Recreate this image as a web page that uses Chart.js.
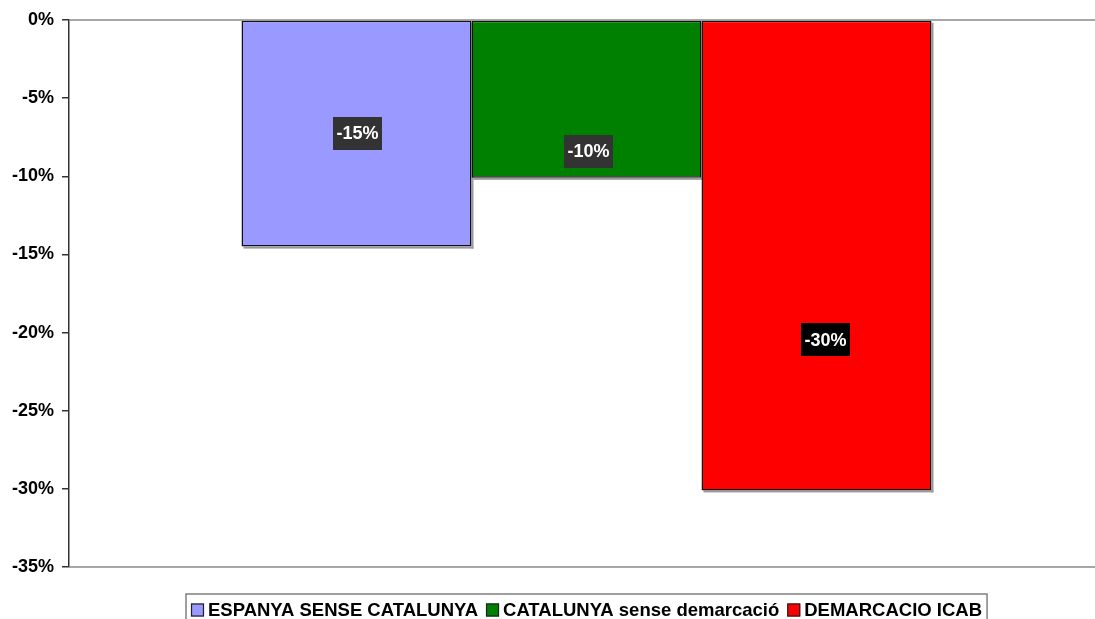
<!DOCTYPE html>
<html>
<head>
<meta charset="utf-8">
<script src="https://cdn.jsdelivr.net/npm/chart.js@4.4.1/dist/chart.umd.min.js"></script>
<style>
  html, body { margin: 0; padding: 0; background: #fff; overflow: hidden; }
  #wrap { width: 1120px; height: 640px; }
</style>
</head>
<body>
<div id="wrap"><canvas id="varChart" width="1120" height="640"></canvas></div>
<script>
const series_names = ['ESPANYA SENSE CATALUNYA', 'CATALUNYA sense demarcació', 'DEMARCACIO ICAB'];
const series_values = [-14.5, -10.1, -30.1];
const series_colors = ['#9999FF', '#008000', '#FF0000'];
const y_ticks = [0, -5, -10, -15, -20, -25, -30, -35];

// where the value boxes sit: share of the bar length, and px nudge sideways
const label_along = [0.5, 0.83, 0.68];
const label_nudge = [1, 2, 9];
const label_bg = ['#333333', '#333333', '#000000'];

const FONT = '"Liberation Sans", Arial, sans-serif';

const datasets_arr = series_names.map((name, i) => ({
  label: name,
  data: [series_values[i]],
  backgroundColor: series_colors[i],
  borderColor: '#111',
  borderWidth: 1.5,
  borderSkipped: false,
  barPercentage: 1,
  categoryPercentage: 2 / 3
}));

const framePlugin = {
  id: 'frame',
  beforeDatasetsDraw(chart) {
    const a = chart.chartArea, ctx = chart.ctx;
    ctx.save();
    ctx.strokeStyle = '#8a8a8a';
    ctx.lineWidth = 1.5;
    ctx.beginPath();
    ctx.moveTo(a.left, a.top); ctx.lineTo(a.right, a.top);
    ctx.lineTo(a.right, a.bottom); ctx.lineTo(a.left, a.bottom);
    ctx.stroke();
    // soft shadow to the right / below each bar
    ctx.fillStyle = '#9a9a9a';
    chart.data.datasets.forEach((ds, i) => {
      const bar = chart.getDatasetMeta(i).data[0];
      const l = bar.x - bar.width / 2, r = bar.x + bar.width / 2;
      ctx.fillRect(r, bar.base + 2, 2, bar.y - bar.base);
      ctx.fillRect(l + 2, bar.y, bar.width, 2);
    });
    ctx.restore();
  },
  afterDatasetsDraw(chart) {
    const ctx = chart.ctx, y = chart.scales.y;
    ctx.save();
    ctx.font = 'bold 18px ' + FONT;
    ctx.textAlign = 'center';
    ctx.textBaseline = 'middle';
    chart.data.datasets.forEach((ds, i) => {
      const bar = chart.getDatasetMeta(i).data[0];
      const v = ds.data[0];
      const txt = v.toFixed(0) + '%';
      const cx = bar.x + label_nudge[i];
      const cy = y.getPixelForValue(v * label_along[i]);
      const w = ctx.measureText(txt).width + 7;
      const h = 33;
      ctx.fillStyle = label_bg[i];
      ctx.fillRect(Math.round(cx - w / 2), Math.round(cy - h / 2), Math.round(w), h);
      ctx.fillStyle = '#fff';
      ctx.fillText(txt, cx, cy + 1);
    });
    ctx.restore();
  },
  afterDraw(chart) {
    // legend box under the plot
    const ctx = chart.ctx, a = chart.chartArea;
    ctx.save();
    ctx.font = 'bold 18.5px ' + FONT;
    const box = 13, gapIn = 4, gapOut = 8, pad = 5;
    const widths = series_names.map(n => box + gapIn + ctx.measureText(n).width);
    const total = widths.reduce((s, w) => s + w, 0) + gapOut * (series_names.length - 1) + pad * 2;
    const left = Math.round((a.left + a.right) / 2 - total / 2);
    const top = 594;
    ctx.strokeStyle = '#808080';
    ctx.lineWidth = 1.5;
    ctx.strokeRect(left, top, total, 34);
    let x = left + pad;
    const mid = top + 16;
    ctx.textBaseline = 'middle';
    series_names.forEach((n, i) => {
      ctx.fillStyle = series_colors[i];
      ctx.fillRect(x, mid - box / 2, box, box);
      ctx.strokeStyle = '#222';
      ctx.lineWidth = 1.2;
      ctx.strokeRect(x + 0.5, mid - box / 2 + 0.5, box - 1, box - 1);
      ctx.fillStyle = '#000';
      ctx.fillText(n, x + box + gapIn, mid + 1);
      x += widths[i] + gapOut;
    });
    ctx.restore();
  }
};

const ctxVar = document.getElementById('varChart').getContext('2d');
const varChart = new Chart(ctxVar, {
  type: 'bar',
  data: {
    labels: [''],
    datasets: datasets_arr
  },
  options: {
    responsive: false,
    animation: false,
    layout: { padding: { left: 0, right: 16, top: 20, bottom: 73 } },
    plugins: {
      legend: { display: false },
      tooltip: { enabled: false }
    },
    scales: {
      x: { display: false },
      y: {
        min: -35,
        max: 0,
        afterBuildTicks(scale) {
          scale.ticks = y_ticks.map(v => ({ value: v }));
        },
        afterFit(scale) { scale.width = 69; },
        border: { display: true, color: '#333', width: 1.5 },
        grid: { drawOnChartArea: false, drawTicks: true, tickLength: 7, color: '#333', lineWidth: 1.5 },
        ticks: {
          padding: 8,
          color: '#000',
          font: { family: FONT, size: 18, weight: 'bold' },
          callback: v => v + '%'
        }
      }
    }
  },
  plugins: [framePlugin]
});
</script>
</body>
</html>
